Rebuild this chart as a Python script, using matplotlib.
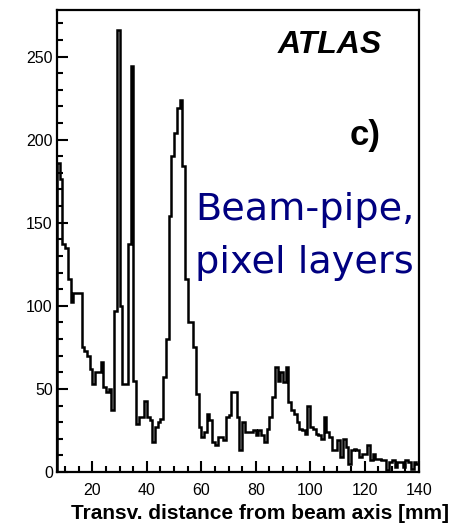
import numpy as np
import matplotlib
matplotlib.use("Agg")
import matplotlib.pyplot as plt
from matplotlib.ticker import MultipleLocator

# Secondary-vertex radius distribution, 1 mm bins from 7 to 140 mm
bin_edges = np.arange(7, 141)
counts = [
    186, 176, 137, 135, 116, 102, 108, 108, 108, 75,   # 7-16
    73, 70, 62, 53, 60, 60, 66, 51, 48, 50,            # 17-26
    37, 97, 266, 100, 53, 53, 137, 244, 55, 29,        # 27-36
    33, 33, 43, 33, 31, 18, 27, 30, 32, 57,            # 37-46
    80, 154, 190, 204, 219, 224, 184, 116, 90, 90,     # 47-56
    75, 47, 27, 21, 24, 35, 31, 18, 16, 21,            # 57-66
    21, 19, 33, 34, 48, 48, 33, 13, 30, 24,            # 67-76
    24, 24, 25, 22, 25, 22, 18, 26, 33, 45,            # 77-86
    63, 55, 60, 54, 63, 42, 37, 35, 30, 26,            # 87-96
    25, 23, 40, 27, 26, 23, 22, 20, 33, 24,            # 97-106
    21, 13, 13, 19, 9, 20, 15, 5, 13, 14,              # 107-116
    13, 9, 11, 11, 16, 7, 11, 8, 8, 7,                 # 117-126
    7, 1, 6, 7, 3, 6, 6, 3, 7, 6,                      # 127-136
    2, 6, 5,                                           # 137-139
]

x_label = "Transv. distance from beam axis [mm]"

plt.rcParams['font.family'] = ['Liberation Sans', 'DejaVu Sans']

fig = plt.figure(figsize=(4.54, 5.26), dpi=100)
ax = fig.add_axes([0.1256, 0.1027, 0.7974, 0.8783])

ax.stairs(counts, bin_edges, color='black', linewidth=1.8)

ax.set_xlim(7, 140)
ax.set_ylim(0, 278)

ax.xaxis.set_major_locator(MultipleLocator(20))
ax.xaxis.set_minor_locator(MultipleLocator(5))
ax.yaxis.set_major_locator(MultipleLocator(50))
ax.yaxis.set_minor_locator(MultipleLocator(10))

ax.tick_params(which='both', direction='in', width=1.5, labelsize=11.5)
ax.tick_params(which='major', length=8)
ax.tick_params(which='minor', length=4)
ax.tick_params(axis='x', which='major', pad=8)
ax.tick_params(axis='y', which='major', pad=3)
for sp in ax.spines.values():
    sp.set_linewidth(1.6)

fig.text(449 / 454, 1 - 519 / 526, x_label, ha='right', va='baseline',
         fontsize=15, fontweight='bold')

ax.text(0.612, 0.899, "ATLAS", transform=fig.transFigure, fontsize=23,
        fontweight='bold', fontstyle='italic', va='baseline')
ax.text(0.771, 0.724, "c)", transform=fig.transFigure, fontsize=25,
        fontweight='bold', va='baseline')
ax.text(0.4295, 0.582, "Beam-pipe,", transform=fig.transFigure, fontsize=27.5,
        color='#000080', family='DejaVu Sans', va='baseline')
ax.text(0.4295, 0.481, "pixel layers", transform=fig.transFigure, fontsize=27.5,
        color='#000080', family='DejaVu Sans', va='baseline')

fig.savefig("out.png", dpi=100)
